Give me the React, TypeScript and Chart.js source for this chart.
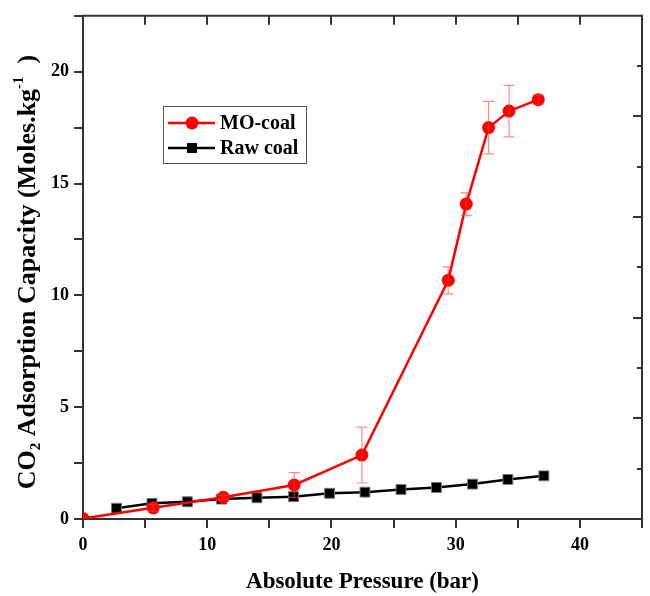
import React, { useEffect, useRef } from 'react';
import { Chart, registerables } from 'chart.js';

Chart.register(...registerables);

// ---- data ----
const moCoalX = [0, 5.65, 11.3, 17.0, 22.45, 29.4, 30.85, 32.65, 34.3, 36.65];
const moCoalY = [0.02, 0.5, 0.97, 1.52, 2.86, 10.67, 14.08, 17.5, 18.24, 18.75];
const moCoalErr = [0, 0.15, 0.1, 0.55, 1.25, 0.6, 0.5, 1.17, 1.15, 0.2];

const rawCoalX = [2.7, 5.55, 8.4, 11.15, 14.0, 16.95, 19.85, 22.7, 25.6, 28.45, 31.35, 34.2, 37.1];
const rawCoalY = [0.48, 0.7, 0.77, 0.89, 0.95, 1.0, 1.15, 1.2, 1.32, 1.41, 1.56, 1.77, 1.93];

const seriesNames = ['MO-coal', 'Raw coal'];
const xTitle = 'Absolute Pressure (bar)';
const yTitleParts = ['CO', '2', ' Adsorption Capacity (Moles.kg', '-1', '  )'];

const FONT = '"Liberation Serif", "Times New Roman", serif';
const AXIS = '#333333';

const errorBarPlugin = {
  id: 'errorBars',
  afterDatasetsDraw(chart: any) {
    const { ctx, scales } = chart;
    const xs = scales.x, ys = scales.y;
    ctx.save();
    ctx.strokeStyle = 'rgba(255,60,60,0.6)';
    ctx.lineWidth = 1.2;
    moCoalX.forEach((xv, i) => {
      const e = moCoalErr[i];
      if (!e) return;
      const px = xs.getPixelForValue(xv);
      const pTop = ys.getPixelForValue(moCoalY[i] + e);
      const pBot = ys.getPixelForValue(moCoalY[i] - e);
      ctx.beginPath();
      ctx.moveTo(px, pTop); ctx.lineTo(px, pBot);
      ctx.moveTo(px - 5.5, pTop); ctx.lineTo(px + 5.5, pTop);
      ctx.moveTo(px - 5.5, pBot); ctx.lineTo(px + 5.5, pBot);
      ctx.stroke();
    });
    ctx.restore();
  },
};

const framePlugin = {
  id: 'frame',
  afterDraw(chart: any) {
    const { ctx, chartArea, scales } = chart;
    const { left, right, top, bottom } = chartArea;
    ctx.save();
    ctx.strokeStyle = AXIS;
    ctx.lineWidth = 2;
    ctx.beginPath();
    ctx.moveTo(left - 1, top); ctx.lineTo(right + 1, top);
    ctx.moveTo(right, top); ctx.lineTo(right, bottom + 1);
    ctx.stroke();
    ctx.beginPath();
    for (let v = 5; v < 45; v += 5) {
      const px = Math.round(scales.x.getPixelForValue(v));
      ctx.moveTo(px, top); ctx.lineTo(px, top + 9);
    }
    for (let v = 2.5; v < 25; v += 2.5) {
      const py = Math.round(scales.y2.getPixelForValue(v));
      const len = Math.abs(v % 5) < 1e-6 ? 9 : 5;
      ctx.moveTo(right, py); ctx.lineTo(right - len, py);
    }
    ctx.stroke();

    // y-axis title with subscript / superscript
    const big = `bold 26px ${FONT}`;
    const small = `bold 15px ${FONT}`;
    const widths = yTitleParts.map((t, i) => {
      ctx.font = i === 1 || i === 3 ? small : big;
      return ctx.measureText(t).width;
    });
    const total = widths.reduce((a, b) => a + b, 0);
    const cy = 272;
    ctx.translate(28, cy);
    ctx.rotate(-Math.PI / 2);
    ctx.fillStyle = '#000';
    ctx.textBaseline = 'middle';
    let x = -total / 2;
    yTitleParts.forEach((t, i) => {
      let dy = 0;
      if (i === 1) { ctx.font = small; dy = 8; }
      else if (i === 3) { ctx.font = small; dy = -9; }
      else ctx.font = big;
      ctx.fillText(t, x, dy);
      x += widths[i];
    });
    ctx.restore();
  },
};

const legendPlugin = {
  id: 'boxLegend',
  afterDraw(chart: any) {
    const { ctx } = chart;
    ctx.save();
    ctx.strokeStyle = '#555';
    ctx.lineWidth = 1;
    ctx.strokeRect(163.5, 106.5, 143, 57);
    const rows = [
      { y: 123, color: '#ff0000', shape: 'circle' },
      { y: 148, color: '#000000', shape: 'rect' },
    ];
    rows.forEach((r, i) => {
      ctx.strokeStyle = r.color;
      ctx.fillStyle = r.color;
      ctx.lineWidth = 2.5;
      ctx.beginPath();
      ctx.moveTo(168, r.y); ctx.lineTo(215, r.y);
      ctx.stroke();
      ctx.beginPath();
      if (r.shape === 'circle') ctx.arc(192, r.y, 6.5, 0, Math.PI * 2);
      else ctx.rect(187, r.y - 5, 10, 10);
      ctx.fill();
      ctx.fillStyle = '#000';
      ctx.font = `bold 20px ${FONT}`;
      ctx.textBaseline = 'middle';
      ctx.fillText(seriesNames[i], 220, r.y + 1);
    });
    ctx.restore();
  },
};

export default function App() {
  const ref = useRef<HTMLCanvasElement>(null);
  useEffect(() => {
    if (!ref.current) return;
    const chart = new Chart(ref.current, {
      type: 'line',
      data: {
        datasets: [
          {
            label: seriesNames[0],
            data: moCoalX.map((x, i) => ({ x, y: moCoalY[i] })),
            borderColor: '#ff0000',
            backgroundColor: '#ff0000',
            borderWidth: 2.5,
            pointStyle: 'circle',
            pointRadius: 6.5,
            pointBorderWidth: 0,
            tension: 0,
          },
          {
            label: seriesNames[1],
            data: rawCoalX.map((x, i) => ({ x, y: rawCoalY[i] })),
            borderColor: '#000000',
            backgroundColor: '#000000',
            borderWidth: 2.5,
            pointStyle: 'rect',
            pointRadius: 7,
            pointBorderWidth: 1,
            pointBorderColor: '#777',
            tension: 0,
          },
        ],
      },
      options: {
        animation: false,
        responsive: false,
        maintainAspectRatio: false,
        layout: { padding: { top: 13, right: 1, left: 0, bottom: 0 } },
        plugins: { legend: { display: false }, tooltip: { enabled: false } },
        scales: {
          x: {
            type: 'linear',
            min: 0,
            max: 45,
            afterFit: (s: any) => { s.height = 77; },
            ticks: {
              stepSize: 5,
              autoSkip: false,
              maxRotation: 0,
              callback: (v: any) => (Number(v) % 10 === 0 ? String(v) : ''),
              font: { family: FONT, size: 18, weight: 'bold' },
              color: '#000',
              padding: 7,
            },
            grid: { drawOnChartArea: false, drawTicks: true, tickLength: 9, color: AXIS, lineWidth: 2 },
            border: { display: true, color: AXIS, width: 2 },
            title: {
              display: true,
              text: xTitle,
              font: { family: FONT, size: 23, weight: 'bold' },
              color: '#000',
              padding: { top: 0, bottom: 0 },
            },
          },
          y: {
            min: 0,
            max: 22.5,
            afterFit: (s: any) => { s.width = 83; },
            ticks: {
              stepSize: 2.5,
              autoSkip: false,
              callback: (v: any) => (Math.abs(Number(v) % 5) < 1e-6 ? String(v) : ''),
              font: { family: FONT, size: 18, weight: 'bold' },
              color: '#000',
              padding: 5,
            },
            grid: { drawOnChartArea: false, drawTicks: true, tickLength: 9, color: AXIS, lineWidth: 2 },
            border: { display: true, color: AXIS, width: 2 },
          },
          y2: {
            display: false,
            position: 'right',
            min: 0,
            max: 25,
          },
        },
      },
      plugins: [errorBarPlugin, framePlugin, legendPlugin],
    } as any);
    return () => chart.destroy();
  }, []);
  return (
    <div style={{ position: 'fixed', left: 0, top: 0, width: 650, height: 596, background: '#fff' }}>
      <canvas ref={ref} width={650} height={596} style={{ display: 'block' }} />
    </div>
  );
}
